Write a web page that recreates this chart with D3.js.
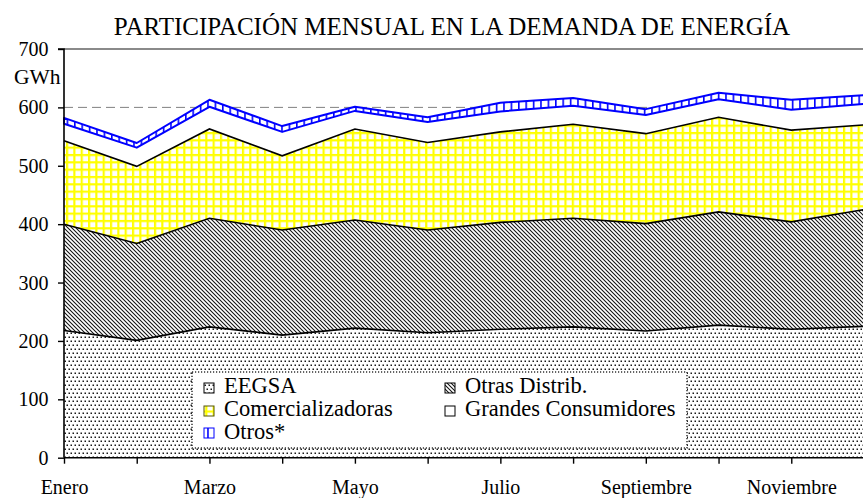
<!DOCTYPE html>
<html>
<head>
<meta charset="utf-8">
<script src="https://cdn.jsdelivr.net/npm/d3@7/dist/d3.min.js"></script>
<style>
  html, body { margin: 0; padding: 0; background: #fff; }
  svg { display: block; }
  text { font-family: "Liberation Serif", "Times New Roman", serif; fill: #000; }
</style>
</head>
<body>
<svg id="chart" width="863" height="498"></svg>
<script>
// ---- Data (GWh) ----
const months = ["Enero","Febrero","Marzo","Abril","Mayo","Junio","Julio","Agosto","Septiembre","Octubre","Noviembre","Diciembre"];
const eegsa   = [218, 201, 224, 210, 222, 214, 220, 224, 217, 227, 220, 225];
const otrasDistrib = [182, 166, 186, 180, 185, 176, 183, 186, 184, 194, 184, 200];
const comercializadoras = [143, 132, 153, 127, 156, 150, 155, 161, 154, 162, 157, 145];
const grandesConsumidores = [29, 32, 38, 41, 31, 35, 35, 32, 32, 31, 35, 36];
const otros = [10, 8, 12, 10, 7, 8, 15, 13, 10, 11, 17, 15];
const yTicks = [0, 100, 200, 300, 400, 500, 600, 700];
const seriesNames = ["EEGSA", "Otras Distrib.", "Comercializadoras", "Grandes Consumidores", "Otros*"];
const title = "PARTICIPACIÓN MENSUAL EN LA DEMANDA DE ENERGÍA";
const unitLabel = "GWh";

const keys = ["eegsa", "otras", "comerc", "grandes", "otros"];
const table = months.map((m, i) => ({
  month: m,
  eegsa: eegsa[i], otras: otrasDistrib[i], comerc: comercializadoras[i],
  grandes: grandesConsumidores[i], otros: otros[i]
}));

const svg = d3.select("#chart");
const defs = svg.append("defs");

// Patterns
const pDots = defs.append("pattern").attr("id", "pDots").attr("patternUnits", "userSpaceOnUse")
  .attr("width", 4).attr("height", 8);
pDots.append("rect").attr("width", 4).attr("height", 8).attr("fill", "#fff");
pDots.append("rect").attr("x", 0.5).attr("y", 0.5).attr("width", 1.5).attr("height", 1.5).attr("fill", "#1a1a1a");
pDots.append("rect").attr("x", 2.5).attr("y", 4.5).attr("width", 1.5).attr("height", 1.5).attr("fill", "#1a1a1a");

const pDiag = defs.append("pattern").attr("id", "pDiag").attr("patternUnits", "userSpaceOnUse")
  .attr("width", 4).attr("height", 4);
pDiag.append("rect").attr("width", 4).attr("height", 4).attr("fill", "#fff");
pDiag.append("path").attr("d", "M-1,-1 L5,5 M3,-1 L5,1 M-1,3 L1,5")
  .attr("stroke", "#111").attr("stroke-width", 1.05).attr("fill", "none");

const gs = 7.33;
const pGrid = defs.append("pattern").attr("id", "pGrid").attr("patternUnits", "userSpaceOnUse")
  .attr("width", gs).attr("height", gs);
pGrid.append("rect").attr("width", gs).attr("height", gs).attr("fill", "#ffff00");
pGrid.append("rect").attr("x", 2.2).attr("y", 2.2).attr("width", gs - 2.2).attr("height", gs - 2.2).attr("fill", "#fff");

const pVert = defs.append("pattern").attr("id", "pVert").attr("patternUnits", "userSpaceOnUse")
  .attr("width", 7.4).attr("height", 10);
pVert.append("rect").attr("width", 7.4).attr("height", 10).attr("fill", "#fff");
pVert.append("rect").attr("x", 0).attr("y", 0).attr("width", 1.6).attr("height", 10).attr("fill", "#0000ff");

const fills = { eegsa: "url(#pDots)", otras: "url(#pDiag)", comerc: "url(#pGrid)", grandes: "#fff", otros: "url(#pVert)" };

// Scales
const x = d3.scalePoint().domain(months).range([64, 864]);
const y = d3.scaleLinear().domain([0, 700]).range([457.7, 49]);

// Title
svg.append("text").attr("x", 452).attr("y", 35).attr("text-anchor", "middle")
  .style("font-size", "25px").text(title);

// Unit label
svg.append("text").attr("x", 14).attr("y", 84)
  .style("font-size", "21.5px").text(unitLabel);

// Top border & dashed gridline
svg.append("line").attr("x1", 64).attr("x2", 864).attr("y1", y(700)).attr("y2", y(700))
  .attr("stroke", "#8a8a8a").attr("stroke-width", 2);
svg.append("line").attr("x1", 64).attr("x2", 864).attr("y1", y(600)).attr("y2", y(600))
  .attr("stroke", "#808080").attr("stroke-width", 1).attr("stroke-dasharray", "9,5");

// Stack
const stack = d3.stack().keys(keys);
const layers = stack(table);

const area = d3.area().x(d => x(d.data.month)).y0(d => y(d[0])).y1(d => y(d[1]));
const topLine = d3.line().x(d => x(d.data.month)).y(d => y(d[1]));

svg.append("g").selectAll("path.area").data(layers).join("path")
  .attr("class", "area")
  .attr("d", area)
  .attr("fill", d => fills[d.key])
  .attr("stroke", d => d.key === "otros" ? "#0000ff" : "none")
  .attr("stroke-width", d => d.key === "otros" ? 2 : 0)
  .attr("stroke-linejoin", "round");

// Black boundary lines
svg.append("g").selectAll("path.top").data(layers.filter(l => ["eegsa", "otras", "comerc"].includes(l.key))).join("path")
  .attr("class", "top")
  .attr("d", topLine)
  .attr("fill", "none").attr("stroke", "#000").attr("stroke-width", 1.6);

// Axes
const yAxis = d3.axisLeft(y).tickValues(yTicks).tickSize(6).tickPadding(9.5).tickFormat(d3.format("d"));
const gy = svg.append("g").attr("transform", "translate(64,0)").call(yAxis);
gy.select(".domain").attr("stroke", "#000").attr("stroke-width", 1.6).attr("d", `M-6,${y(700)}H0V${y(0)}`);
gy.selectAll(".tick line").attr("stroke", "#000").attr("stroke-width", 1.4);
gy.selectAll(".tick text").style("font-size", "20px").style("font-family", "'Liberation Serif', serif").attr("dy", "0.33em");

const xAxis = d3.axisBottom(x).tickSize(6).tickFormat((d, i) => i % 2 === 0 ? d : "");
const gx = svg.append("g").attr("transform", `translate(0,${y(0)})`).call(xAxis);
gx.select(".domain").attr("stroke", "#000").attr("stroke-width", 1.6).attr("d", `M64,0H864`);
gx.selectAll(".tick line").attr("stroke", "#000").attr("stroke-width", 1.4);
gx.selectAll(".tick text").style("font-size", "20px").style("font-family", "'Liberation Serif', serif")
  .attr("y", 36).attr("dy", 0);

// Legend
const lg = svg.append("g");
lg.append("rect").attr("x", 192).attr("y", 372).attr("width", 495).attr("height", 76)
  .attr("fill", "#fff").attr("stroke", "#333").attr("stroke-width", 1.5).attr("stroke-dasharray", "1.2,1.8");
const legendPos = [
  { k: "eegsa", sx: 204, sy: 383, tx: 224, ty: 393 },
  { k: "otras", sx: 445, sy: 383, tx: 465, ty: 393 },
  { k: "comerc", sx: 204, sy: 406, tx: 224, ty: 416 },
  { k: "grandes", sx: 445, sy: 406, tx: 465, ty: 416 },
  { k: "otros", sx: 204, sy: 428, tx: 224, ty: 439 }
];
const strokeCol = { eegsa: "#000", otras: "#000", comerc: "#555500", grandes: "#000", otros: "#0000ff" };
legendPos.forEach((p) => {
  lg.append("rect").attr("x", p.sx).attr("y", p.sy).attr("width", 10).attr("height", 10)
    .attr("fill", fills[p.k]).attr("stroke", strokeCol[p.k]).attr("stroke-width", 1);
  lg.append("text").attr("x", p.tx).attr("y", p.ty)
    .style("font-size", "22.5px").text(seriesNames[keys.indexOf(p.k)]);
});
</script>
</body>
</html>
